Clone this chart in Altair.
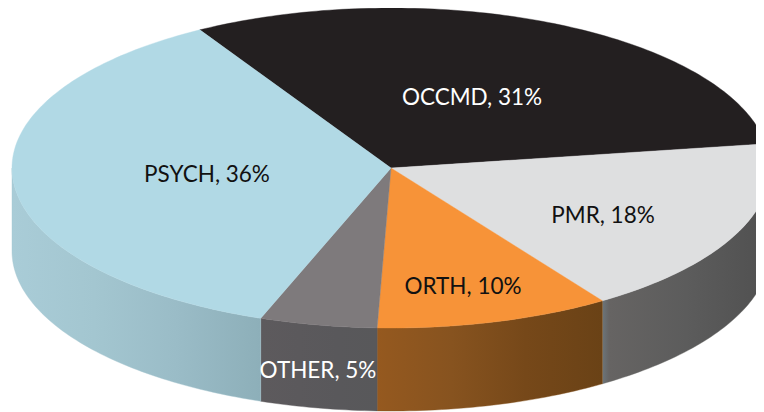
import numpy as np
import pandas as pd
import altair as alt

# ---- data -------------------------------------------------------------
categories = ["OCCMD", "PMR", "ORTH", "OTHER", "PSYCH"]
shares = [31, 18, 10, 5, 36]

# ---- layout and style (pixels of the 764x412 picture) -----------------
CX, CY, SX, SY, DEPTH = 391.0, 168.0, 379.0, 160.0, 83.0
START_ANGLE = -30.3
top_fill = {"OCCMD": "#231f20", "PMR": "#dedfe0", "ORTH": "#f79338",
            "OTHER": "#7e7a7c", "PSYCH": "#b1d9e5"}
wall_stops = {
    "PMR": ["#6c757a", "#666463", "#5c5c5c", "#505050"],
    "ORTH": ["#95591f", "#87531f", "#764819", "#6a4216"],
    "OTHER": ["#5d5a5d", "#5b595c", "#59585b", "#58585a"],
    "PSYCH": ["#a9ccd7", "#a3c6d0", "#9abcc7", "#8dafb9"],
}
label_at = {"OCCMD": (472, 98), "PMR": (603, 216), "ORTH": (463, 287),
            "OTHER": (318, 371), "PSYCH": (207, 175)}
label_color = {"OTHER": "white", "OCCMD": "white"}


def rim(angle):
    a = np.radians(angle)
    return CX + SX * np.sin(a), CY - SY * np.cos(a)


def arc_angles(a0, a1):
    return np.linspace(a0, a1, max(2, int(abs(a1 - a0)) + 2))


edges = START_ANGLE + np.cumsum([0] + shares) * 3.6

xs = alt.X("x:Q", scale=alt.Scale(domain=[8, 756], nice=False, zero=False), axis=None)
ys = alt.Y("y:Q", scale=alt.Scale(domain=[412, 8], nice=False, zero=False), axis=None)


def polygon(points, **mark):
    df = pd.DataFrame({"x": [p[0] for p in points], "y": [p[1] for p in points],
                       "i": range(len(points))})
    return alt.Chart(df).mark_line(clip=True, **mark).encode(
        x=xs, y=ys, order=alt.Order("i:Q"))


layers = []

# side walls: only the front half of the rim (90 to 270 degrees) shows
for k, name in enumerate(categories):
    a0, a1 = max(edges[k], 90.0), min(edges[k + 1], 270.0)
    if a1 <= a0:
        continue
    angles = arc_angles(a0, a1)
    upper = [rim(a) for a in angles]
    lower = [(x, y + DEPTH) for x, y in reversed(upper)]
    stops = wall_stops[name]
    offsets = [0, 0.04, 0.5, 1] if name == "PMR" else [0, 0.33, 0.66, 1]
    grad = alt.LinearGradient(
        gradient="linear", x1=0, y1=0, x2=1, y2=0,
        stops=[alt.GradientStop(color=c, offset=o) for c, o in zip(stops, offsets)])
    layers.append(polygon(upper + lower + upper[:1], fill=grad,
                          stroke=stops[1], strokeWidth=0.4))

# top faces
for k, name in enumerate(categories):
    rim_pts = [rim(a) for a in arc_angles(edges[k], edges[k + 1])]
    pts = [(CX, CY)] + rim_pts + [(CX, CY)]
    layers.append(polygon(pts, fill=top_fill[name], stroke=top_fill[name], strokeWidth=0.4))

# labels
labels = pd.DataFrame({
    "text": [f"{c}, {s}%" for c, s in zip(categories, shares)],
    "x": [label_at[c][0] for c in categories],
    "y": [label_at[c][1] for c in categories],
    "color": [label_color.get(c, "#111111") for c in categories],
})
layers.append(alt.Chart(labels).mark_text(font="Lato", fontSize=22.5, align="center",
                                          baseline="middle").encode(
    x=xs, y=ys, text="text:N", color=alt.Color("color:N", scale=None)))

chart = alt.layer(*layers).properties(
    width=748, height=404, padding=0, autosize=alt.AutoSizeParams(type="none"),
    background="white",
).configure_view(stroke=None)

chart.save("out.html", embed_options={"renderer": "svg", "actions": False})
